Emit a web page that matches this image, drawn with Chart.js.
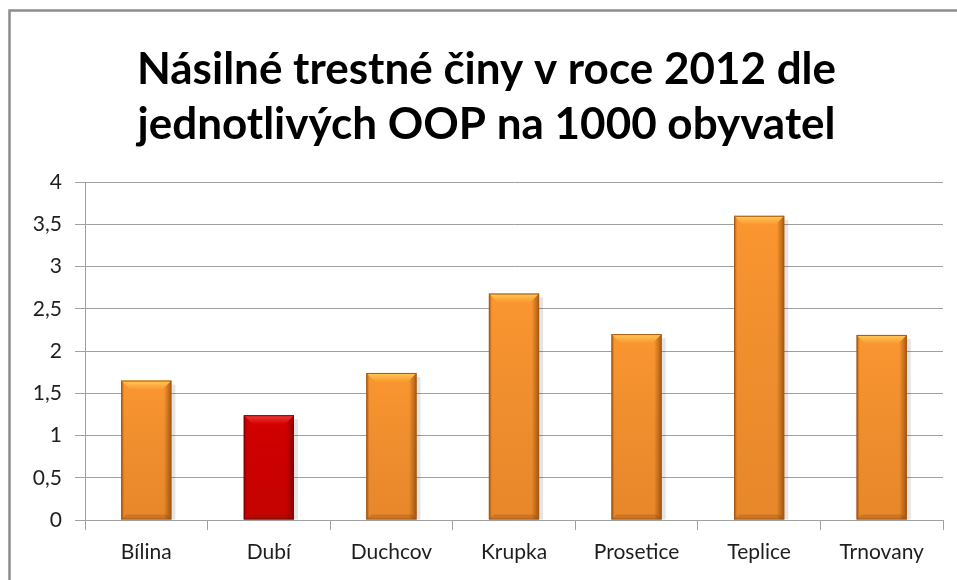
<!DOCTYPE html>
<html>
<head>
<meta charset="utf-8">
<script src="https://cdn.jsdelivr.net/npm/chart.js@4.4.0/dist/chart.umd.min.js"></script>
<style>
html,body{margin:0;padding:0;background:#fff;}
#wrap{width:957px;height:580px;position:relative;}
</style>
</head>
<body>
<div id="wrap"><canvas id="c" width="957" height="580"></canvas></div>
<script>
const categories = ['Bílina', 'Dubí', 'Duchcov', 'Krupka', 'Prosetice', 'Teplice', 'Trnovany'];
const values = [1.65, 1.24, 1.74, 2.68, 2.20, 3.60, 2.19];
const highlighted = ['Dubí'];
const titleLines = ['Násilné trestné činy v roce 2012 dle', 'jednotlivých OOP na 1000 obyvatel'];
const yTicks = [0, 0.5, 1, 1.5, 2, 2.5, 3, 3.5, 4];

const FONT = 'Lato, "Open Sans", sans-serif';

function palette(i){
  return highlighted.includes(categories[i])
    ? {mid:'#d40000', light:'#f43a3a', dark:'#8a0000'}
    : {mid:'#fb9630', light:'#ffca55', dark:'#a85a12'};
}

const frame = {
  id:'frame',
  beforeDraw(chart){
    const ctx = chart.ctx;
    ctx.save();
    ctx.fillStyle = '#fff';
    ctx.fillRect(0,0,chart.width,chart.height);
    ctx.strokeStyle = '#8c8c8c';
    ctx.lineWidth = 2.5;
    ctx.strokeRect(9.5, 10.5, chart.width + 20, chart.height + 20);
    ctx.restore();
  }
};

const bevel = {
  id:'bevel',
  afterDatasetsDraw(chart){
    const ctx = chart.ctx;
    const meta = chart.getDatasetMeta(0);
    meta.data.forEach((el, i) => {
      const p = el.getProps(['x','y','width','base'], true);
      const l = p.x - p.width/2, r = p.x + p.width/2, t = p.y, b = p.base;
      const c = palette(i);
      ctx.save();
      ctx.fillStyle = 'rgba(0,0,0,0.10)';
      ctx.fillRect(r, t + 4, 4, b - t - 4);
      const g = ctx.createLinearGradient(l, 0, r, 0);
      g.addColorStop(0, c.dark);
      g.addColorStop(0.06, c.mid);
      g.addColorStop(0.85, c.mid);
      g.addColorStop(1, c.dark);
      ctx.fillStyle = g;
      ctx.fillRect(l, t, r - l, b - t);
      const gv = ctx.createLinearGradient(0, t, 0, b);
      gv.addColorStop(0, 'rgba(0,0,0,0)');
      gv.addColorStop(1, 'rgba(90,30,0,0.12)');
      ctx.fillStyle = gv;
      ctx.fillRect(l, t, r - l, b - t);
      const bh = 9;
      const gt = ctx.createLinearGradient(0, t, 0, t + bh);
      gt.addColorStop(0, c.light);
      gt.addColorStop(1, c.mid);
      ctx.fillStyle = gt;
      ctx.beginPath();
      ctx.moveTo(l, t); ctx.lineTo(r, t); ctx.lineTo(r - bh, t + bh); ctx.lineTo(l + bh, t + bh); ctx.closePath();
      ctx.fill();
      ctx.fillStyle = 'rgba(90,35,0,0.18)';
      ctx.beginPath();
      ctx.moveTo(l, b); ctx.lineTo(r, b); ctx.lineTo(r - 5, b - 5); ctx.lineTo(l + 5, b - 5); ctx.closePath();
      ctx.fill();
      ctx.strokeStyle = c.dark;
      ctx.lineWidth = 1;
      ctx.strokeRect(l + 0.5, t + 0.5, r - l - 1, b - t - 1);
      ctx.restore();
    });
  }
};

new Chart(document.getElementById('c'), {
  type: 'bar',
  data: {
    labels: categories,
    datasets: [{
      data: values,
      backgroundColor: 'rgba(0,0,0,0)',
      borderWidth: 0,
      categoryPercentage: 1,
      barPercentage: 0.41
    }]
  },
  options: {
    responsive: false,
    animation: false,
    devicePixelRatio: 1,
    layout: { padding: { left: 30, right: 14, top: 0, bottom: 0 } },
    plugins: {
      legend: { display: false },
      tooltip: { enabled: false },
      title: {
        display: true,
        text: titleLines,
        color: '#000',
        font: { family: FONT, size: 44, weight: 'bold', lineHeight: 1.25 },
        padding: { top: 42, bottom: 30 }
      }
    },
    scales: {
      x: {
        grid: { display: true, drawOnChartArea: false, color: '#a0a0a0', tickLength: 10, offset: true },
        border: { color: '#a0a0a0' },
        ticks: { color: '#1e1e1e', font: { family: FONT, size: 21 }, padding: 10 },
        afterFit(s){ s.height = 60; }
      },
      y: {
        min: 0, max: 4,
        afterBuildTicks(s){ s.ticks = yTicks.map(v => ({value: v})); },
        grid: { color: '#a0a0a0', tickLength: 10 },
        border: { color: '#a0a0a0' },
        ticks: {
          color: '#1e1e1e', font: { family: FONT, size: 21 }, padding: 13,
          callback: v => String(v).replace('.', ',')
        },
        afterFit(s){ s.width = 55; }
      }
    }
  },
  plugins: [frame, bevel]
});
</script>
</body>
</html>
